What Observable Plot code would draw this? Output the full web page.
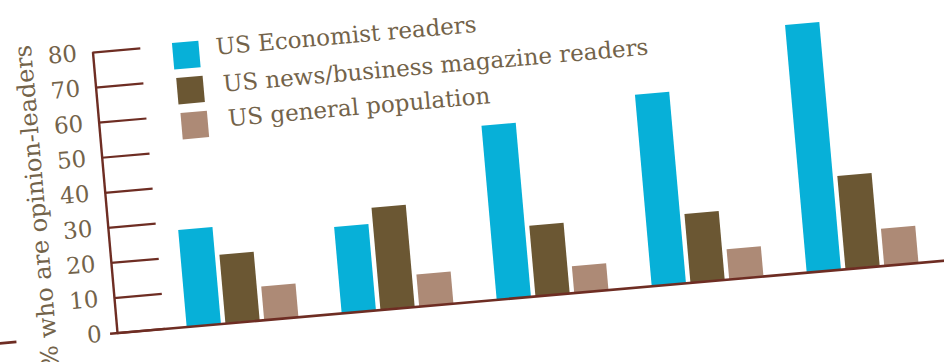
<!DOCTYPE html>
<html>
<head>
<meta charset="utf-8">
<script src="https://cdn.jsdelivr.net/npm/d3@7"></script>
<script src="https://cdn.jsdelivr.net/npm/@observablehq/plot@0.6"></script>
<style>
  html, body { margin: 0; padding: 0; background: #fff; overflow: hidden; width: 944px; height: 362px; }
  #wrap { position: absolute; }
</style>
</head>
<body>
<div id="wrap"></div>
<script>
// ---- data ----
const categories = ["Group 1", "Group 2", "Group 3", "Group 4", "Group 5"];
const seriesNames = ["US Economist readers", "US news/business magazine readers", "US general population"];
const economist = [27.5, 24.5, 49.5, 54.5, 70.5];
const newsBusiness = [19.5, 29, 20, 19.5, 26.5];
const generalPop = [9.5, 9, 7.5, 8.5, 10.5];
const yTicks = [0, 10, 20, 30, 40, 50, 60, 70, 80];
const yLabel = "% who are opinion-leaders";

const seriesValues = [economist, newsBusiness, generalPop];
const colors = ["#07b0d8", "#6b5733", "#ad8a76"];
const axisColor = "#6e2d23";
const textColor = "#73634a";

// slots: 3 bars + one empty slot per group
const slots = [];
categories.forEach(c => { seriesNames.forEach(s => slots.push(c + "|" + s)); slots.push(c + "|gap"); });
const data = [];
categories.forEach((c, ci) => seriesNames.forEach((s, si) => data.push({slot: c + "|" + s, series: s, value: seriesValues[si][ci]})));

// ---- layout (local, unrotated frame) ----
const L = 140, T = 40, frameH = 281.6, H = 362, W = 1040;
const baseY = T + frameH;
const frameW = W - L;
const font = "DejaVu Serif";

const legendMarks = [];
seriesNames.forEach((s, i) => {
  legendMarks.push(Plot.dot([s], {frameAnchor: "top-left", dx: 92.7 + 1.2 * i, dy: 10.7 + 35.2 * i, symbol: "square", r: 14.95, fill: colors[i]}));
  legendMarks.push(Plot.text([s], {frameAnchor: "top-left", dx: [122.8, 126.8, 128.8][i], dy: [5.6, 43.1, 77.8][i], text: d => d, textAnchor: "start", lineAnchor: "middle", fontSize: 23, fontFamily: font, fill: textColor}));
});

const chart = Plot.plot({
  width: W, height: H,
  marginLeft: L, marginTop: T, marginRight: 0, marginBottom: H - baseY,
  style: {fontFamily: font, fontSize: "22px", background: "transparent", overflow: "visible"},
  x: {type: "band", domain: slots, range: [L + 69.9, L + 843.4], paddingInner: 0.116, paddingOuter: 0, align: 0, round: false, axis: null},
  y: {domain: [0, 80], axis: null},
  color: {domain: seriesNames, range: colors},
  marks: [
    Plot.barY(data, {x: "slot", y: "value", fill: "series"}),
    Plot.ruleY([0], {stroke: axisColor, strokeWidth: 2.6, insetLeft: -7}),
    Plot.ruleY([0], {stroke: axisColor, strokeWidth: 2.6, insetLeft: -135, insetRight: frameW + 101}),
    Plot.ruleX([0], {x: null, dx: -frameW / 2, stroke: axisColor, strokeWidth: 2.4}),
    Plot.axisY({ticks: yTicks, tickSize: -48, tickFormat: () => "", label: null, stroke: axisColor, strokeWidth: 2.2}),
    Plot.axisY({ticks: yTicks, tickSize: 0, tickPadding: 16, label: null, fontSize: 23, fontFamily: font, color: textColor}),
    Plot.text([yLabel], {frameAnchor: "left", rotate: -90, dx: -69, dy: 7.8, text: d => d, textAnchor: "middle", lineAnchor: "middle", fontSize: 24, fontFamily: font, fill: textColor}),
    ...legendMarks
  ]
});

const wrap = document.getElementById("wrap");
wrap.appendChild(chart);
wrap.style.left = (117 - L) + "px";
wrap.style.top = (333 - baseY) + "px";
wrap.style.width = W + "px";
wrap.style.height = H + "px";
wrap.style.transformOrigin = L + "px " + baseY + "px";
wrap.style.transform = "rotate(-5deg)";
</script>
</body>
</html>
